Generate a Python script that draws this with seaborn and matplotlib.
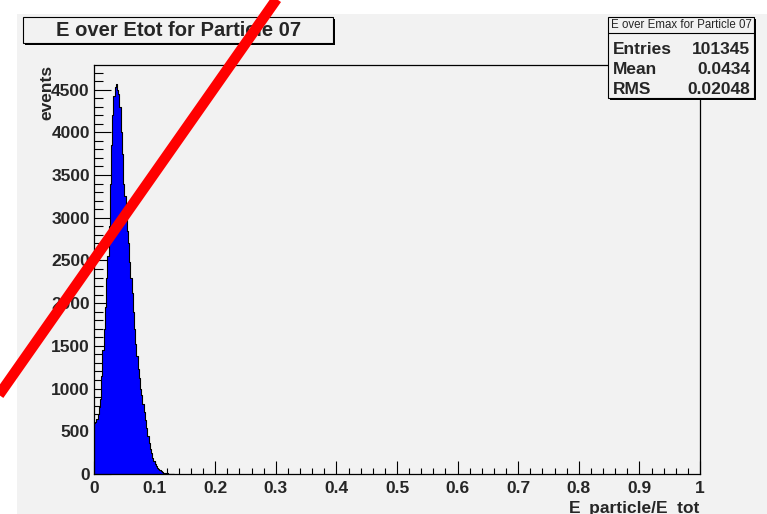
import numpy as np
import pandas as pd
import matplotlib
matplotlib.use("Agg")
import matplotlib.pyplot as plt
from matplotlib.patches import Rectangle
from matplotlib.lines import Line2D
from matplotlib.ticker import MultipleLocator
import seaborn as sns

# ---- data ----
bin_width = 0.002
counts = [600, 610, 640, 700, 790, 880, 1150, 1450, 1700, 1950,
          2300, 2550, 2900, 3400, 3850, 4200, 4420, 4530, 4560, 4490,
          4450, 4300, 4000, 3750, 3400, 3250, 3000, 2850, 2700, 2480,
          2300, 2120, 1900, 1700, 1520, 1380, 1230, 1120, 1000, 930,
          820, 720, 630, 540, 440, 360, 290, 240, 190, 150,
          120, 95, 75, 55, 42, 30, 22, 16, 11, 8,
          6, 4, 3, 2, 1, 1]
x_ticks = [0, 0.1, 0.2, 0.3, 0.4, 0.5, 0.6, 0.7, 0.8, 0.9, 1]
x_tick_labels = ["0", "0.1", "0.2", "0.3", "0.4", "0.5", "0.6", "0.7", "0.8", "0.9", "1"]
y_ticks = [0, 500, 1000, 1500, 2000, 2500, 3000, 3500, 4000, 4500]
title = "E over Etot for Particle 07"
stats_title = "E over Emax for Particle 07"
stats_names = ["Entries", "Mean", "RMS"]
stats_values = ["101345", "0.0434", "0.02048"]
x_label = "E_particle/E_tot"
y_label = "events"

n_bins = len(counts)
centers = (np.arange(n_bins) + 0.5) * bin_width
df = pd.DataFrame({"x": centers, "w": counts})

sns.set_theme(style="white")
plt.rcParams["font.family"] = ["Liberation Sans", "DejaVu Sans"]

W, H = 767, 514
GRAY = "#f2f2f2"
fig = plt.figure(figsize=(W / 100, H / 100), dpi=100)
fig.patch.set_facecolor("white")

def fx(px):
    return px / W

def fy(py):
    return 1 - py / H

# gray canvas
fig.add_artist(Rectangle((fx(17), 0), 1, fy(14), transform=fig.transFigure,
                         facecolor=GRAY, edgecolor="none", zorder=0))

ax = fig.add_axes([fx(94), fy(474), fx(700) - fx(94), fy(65) - fy(474)])
ax.set_facecolor(GRAY)

sns.histplot(data=df, x="x", weights="w", bins=n_bins,
             binrange=(0, n_bins * bin_width), element="step", fill=True,
             color="#0000ff", alpha=1, edgecolor="black", linewidth=0.8, ax=ax)

ax.set_xlim(0, 1)
ax.set_ylim(0, 1.05 * max(counts))
ax.set_xticks(x_ticks)
ax.set_xticklabels(x_tick_labels)
ax.set_yticks(y_ticks)
ax.set_yticklabels([str(v) for v in y_ticks])
ax.xaxis.set_minor_locator(MultipleLocator(0.02))
ax.yaxis.set_minor_locator(MultipleLocator(100))
ax.set_xlabel("")
ax.set_ylabel("")
for s in ax.spines.values():
    s.set_color("black")
    s.set_linewidth(0.9)
ax.tick_params(which="both", direction="in", color="black", width=0.8,
               bottom=True, left=True, top=False, right=False)
ax.tick_params(axis="x", which="major", length=9.4, pad=5, labelsize=12.5)
ax.tick_params(axis="x", which="minor", length=4.3)
ax.tick_params(axis="y", which="major", length=12.2, pad=3, labelsize=12.5)
ax.tick_params(axis="y", which="minor", length=6.5)
for lab in ax.get_xticklabels() + ax.get_yticklabels():
    lab.set_fontweight("bold")

ax.text(1.0, (474 - 513) / (474 - 65), x_label, transform=ax.transAxes,
        ha="right", va="baseline", fontsize=12.5, fontweight="bold")
ax.text((47 - 94) / (700 - 94), 1.0, y_label, transform=ax.transAxes,
        rotation=90, ha="center", va="top", fontsize=12.5, fontweight="bold")

def box(x0, y0, x1, y1):
    fig.add_artist(Rectangle((fx(x0 + 2), fy(y1 + 2)), fx(x1 - x0), fy(y0) - fy(y1),
                             transform=fig.transFigure, facecolor="black",
                             edgecolor="none", zorder=5))
    fig.add_artist(Rectangle((fx(x0), fy(y1)), fx(x1 - x0), fy(y0) - fy(y1),
                             transform=fig.transFigure, facecolor=GRAY,
                             edgecolor="black", linewidth=0.8, zorder=6))

# title box
box(23, 17, 333, 43)
fig.text(fx(179), fy(30), title, ha="center", va="center", fontsize=14.5,
         fontweight="bold", zorder=7)

# stats box
box(608, 17, 754, 98)
fig.add_artist(Line2D([fx(608), fx(754)], [fy(33), fy(33)], transform=fig.transFigure,
                      color="black", linewidth=0.8, zorder=7))
fig.text(fx(681), fy(25.5), stats_title, ha="center", va="center", fontsize=8.3, zorder=7)
for i, (n, v) in enumerate(zip(stats_names, stats_values)):
    yy = fy(49 + 20.5 * i)
    fig.text(fx(613), yy, n, ha="left", va="center", fontsize=12.5,
             fontweight="bold", zorder=7)
    fig.text(fx(750), yy, v, ha="right", va="center", fontsize=12.5,
             fontweight="bold", zorder=7)

# red diagonal stroke
fig.add_artist(Line2D([fx(-20), fx(290)], [fy(422), fy(-20)], transform=fig.transFigure,
                      color="#ff0000", linewidth=7.6, solid_capstyle="butt", zorder=100))

fig.savefig("out.png", dpi=100, facecolor=fig.get_facecolor())
